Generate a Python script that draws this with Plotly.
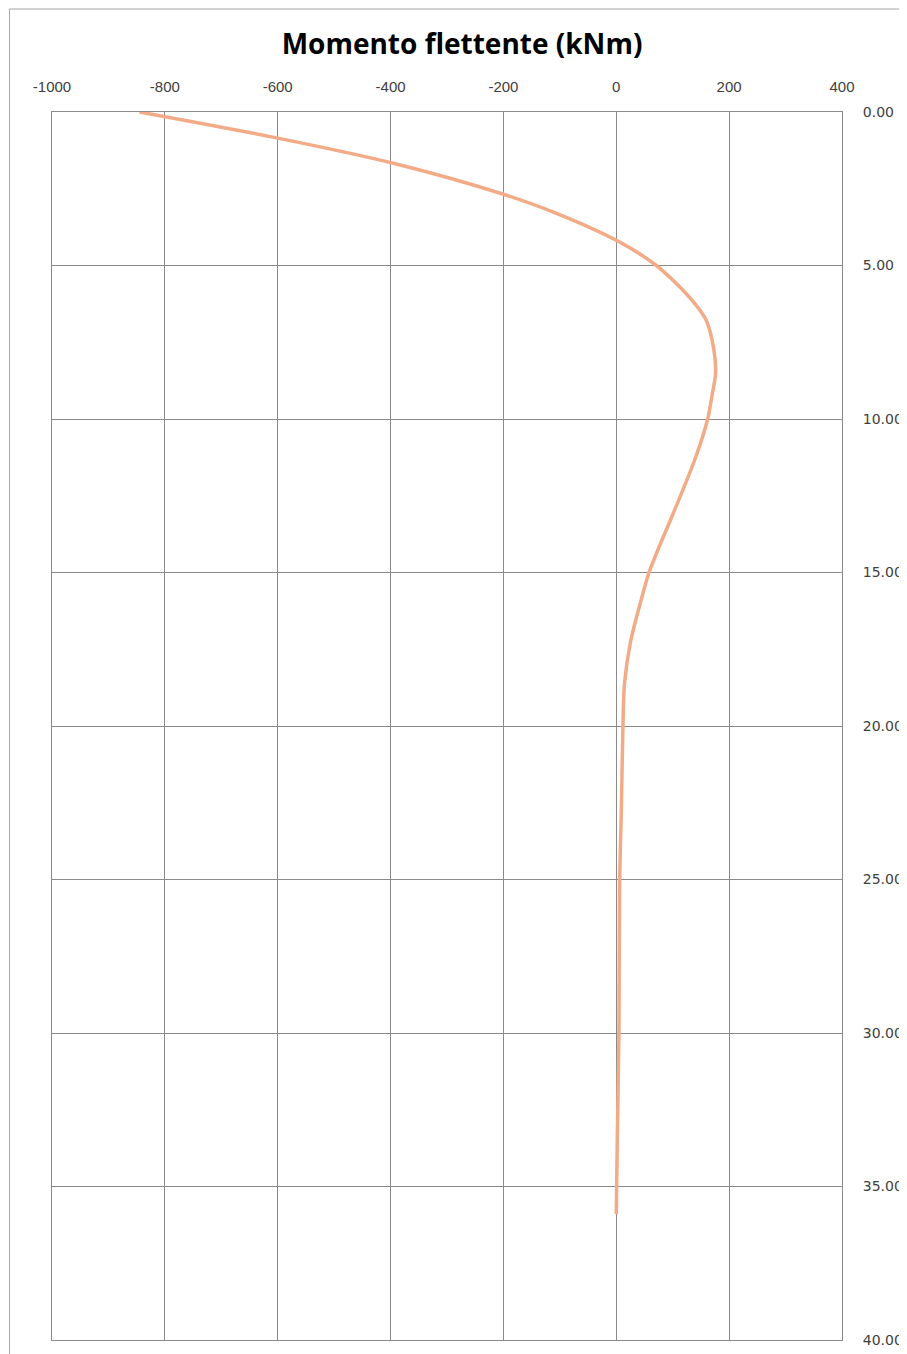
import plotly.graph_objects as go

# Data (depth in m, bending moment in kNm)
depth = [0.0, 0.85, 1.67, 2.68, 3.30, 4.18, 5.00, 6.02, 6.77, 7.75, 8.51,
         9.20, 10.00, 11.23, 12.31, 13.29, 14.16, 15.00, 15.90, 17.28, 18.63,
         20.00, 22.87, 25.09, 30.00, 33.45, 35.90]
moment = [-845, -600, -395, -200, -106, 0, 71, 129, 159, 173, 176,
          170, 162, 141, 118, 96, 76, 58, 44, 25, 14.5,
          11.8, 8.8, 5.9, 4.7, 1.8, 0]

x_ticks = [-1000, -800, -600, -400, -200, 0, 200, 400]
y_ticks = [0, 5, 10, 15, 20, 25, 30, 35, 40]
title_text = "Momento flettente (kNm)"

fig = go.Figure()
fig.add_trace(go.Scatter(
    x=moment, y=depth, mode="lines",
    line=dict(color="#F2AB86", width=3.5, shape="spline", smoothing=0.8),
    showlegend=False, hoverinfo="skip",
))

grid = "#8A8A8A"
L, R, T, B = 44, 64, 104, 22
pw, ph = 907 - L - R, 1354 - T - B

fig.update_layout(
    width=907, height=1354,
    margin=dict(l=L, r=R, t=T, b=B),
    paper_bgcolor="white", plot_bgcolor="white",
    title=dict(text="<b>" + title_text + "</b>", x=0.5006, xanchor="center",
               y=1 - 36 / 1354, yanchor="middle",
               font=dict(family="Open Sans", size=28, color="#000000")),
    xaxis=dict(side="top", range=[-1000, 400], tickvals=x_ticks,
               ticktext=[str(v) for v in x_ticks],
               showgrid=True, gridcolor=grid, gridwidth=1,
               zeroline=False, showline=True, linecolor=grid, linewidth=1,
               mirror=True, ticks="", ticklabelstandoff=13,
               tickfont=dict(family="Liberation Sans", size=15, color="#404040")),
    yaxis=dict(side="right", range=[40, 0], tickvals=y_ticks,
               ticktext=["%.2f" % v for v in y_ticks],
               showgrid=True, gridcolor=grid, gridwidth=1,
               zeroline=False, showline=True, linecolor=grid, linewidth=1,
               mirror=True, ticks="", ticklabelstandoff=17,
               tickfont=dict(family="DejaVu Sans", size=14, color="#404040")),
)

# outer chart frame (paper edge)
fig.add_shape(type="rect", xref="paper", yref="paper",
              x0=(1 - L) / pw, x1=(906 - L) / pw,
              y0=-(B - 1) / ph, y1=1 + (T - 1) / ph,
              line=dict(color="#A6A6A6", width=1), layer="below")

fig.write_html("out.html")
